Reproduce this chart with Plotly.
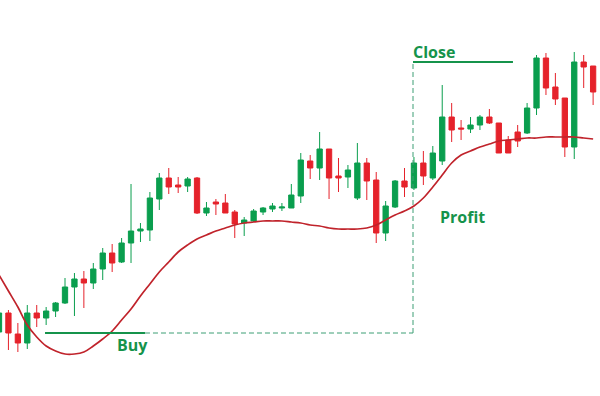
import plotly.graph_objects as go

# ---- data (price units; higher = up) ----
idx = list(range(64))
# colour of each candle: 1 = rising (green), 0 = falling (red)
rising = [1,0,0,1,0,1,1,1,1,0,1,1,0,1,1,1,1,1,0,0,1,0,1,0,0,0,1,1,1,1,
          1,1,1,0,1,0,0,1,1,0,0,1,1,0,1,0,1,1,0,0,1,1,0,0,0,0,1,1,0,0,
          0,1,0,0]
body_top = [313,313,334,313,313,311,303,287,279,279,269,253,253,243,231,229,198,178,178,185,
            179,178,208,202,203,212,220,211,208,206,207,195,160,161,149,149,176,170,163,163,
            180,206,181,181,163,163,153,117,117,128,125,117,117,123,140,132,108,58,58,87,
            98,62,62,66]
body_bot = [332,333,343,343,318,318,311,303,287,283,283,269,263,262,243,231,230,199,187,187,
            186,213,213,204,213,224,223,221,212,209,208,208,196,168,168,178,178,177,198,181,
            233,233,207,187,188,176,178,161,130,129,129,125,123,153,153,141,133,108,88,99,
            147,147,67,92]
wick_top = [305,310,323,305,305,307,302,278,273,271,263,248,244,238,184,223,192,173,168,177,
            177,177,202,199,194,210,217,209,207,203,203,184,153,155,132,149,158,165,143,158,
            172,201,180,168,157,151,146,85,103,120,117,115,109,123,136,125,103,55,53,73,
            98,52,55,66]
wick_bot = [338,350,352,349,327,325,317,304,316,308,289,280,272,263,263,242,241,210,194,193,
            192,214,216,215,213,238,236,222,215,212,211,208,203,179,180,199,192,188,200,200,
            243,241,208,197,190,185,180,165,142,140,133,130,124,153,153,147,134,115,95,105,
            157,159,88,105]
# moving-average line (pixel-read levels, one per candle)
ma_px = [275,291,307,325,337,346,351,354,354,352,346,339,331,320,309,296,284,272,262,252,
         245,239,235,231,228,225,223,222,221,221,221,222,223,225,226,228,229,229,229,228,
         225,220,215,211,206,198,187,175,163,155,151,147,144,141,140,139,138,138,137,137,
         137,137,138,139]

H = 396
to_price = lambda v: H - v
opens, closes, highs, lows = [], [], [], []
for r, t, b, wt, wb in zip(rising, body_top, body_bot, wick_top, wick_bot):
    if r:
        opens.append(to_price(b)); closes.append(to_price(t))
    else:
        opens.append(to_price(t)); closes.append(to_price(b))
    highs.append(to_price(wt)); lows.append(to_price(wb))
ma = [to_price(v) for v in ma_px]

buy_level = to_price(333)
close_level = to_price(62)
buy_start, buy_end, exit_x, close_end = 4.88, 15.48, 43.9, 54.5

GREEN = "#0a9e4e"
RED = "#e5222b"
TEXT_GREEN = "#15934b"
DASH = "#3c9e74"

fig = go.Figure()
fig.add_trace(go.Candlestick(
    x=idx, open=opens, high=highs, low=lows, close=closes,
    increasing=dict(line=dict(color=GREEN, width=1), fillcolor=GREEN),
    decreasing=dict(line=dict(color=RED, width=1), fillcolor=RED),
    whiskerwidth=0, showlegend=False, hoverinfo="skip"))
fig.add_trace(go.Scatter(x=idx, y=ma, mode="lines", line=dict(color="#c0232b", width=1.7, shape="spline"),
                         showlegend=False, hoverinfo="skip"))

# levels
fig.add_shape(type="line", x0=buy_start, x1=buy_end, y0=buy_level, y1=buy_level,
              line=dict(color=TEXT_GREEN, width=2))
fig.add_shape(type="line", x0=buy_end, x1=exit_x, y0=buy_level, y1=buy_level,
              line=dict(color=DASH, width=1, dash="5px,3px"))
fig.add_shape(type="line", x0=exit_x, x1=exit_x, y0=buy_level, y1=close_level,
              line=dict(color=DASH, width=1, dash="5px,3px"))
fig.add_shape(type="line", x0=exit_x, x1=close_end, y0=close_level, y1=close_level,
              line=dict(color=TEXT_GREEN, width=2))

font = dict(family="Open Sans", size=16, color=TEXT_GREEN)
fig.add_annotation(x=12.3, y=to_price(345), text="<b>Buy</b>", showarrow=False, xanchor="left", yanchor="middle", font=font)
fig.add_annotation(x=43.7, y=to_price(52), text="<b>Close</b>", showarrow=False, xanchor="left", yanchor="middle", font=font)
fig.add_annotation(x=46.6, y=to_price(217), text="<b>Profit</b>", showarrow=False, xanchor="left", yanchor="middle", font=font)

fig.update_layout(
    width=600, height=396, margin=dict(l=0, r=0, t=0, b=0),
    paper_bgcolor="white", plot_bgcolor="white",
    xaxis=dict(range=[0.106, 63.73], visible=False, rangeslider=dict(visible=False), fixedrange=True),
    yaxis=dict(range=[0, H], visible=False, fixedrange=True),
    boxgap=0.2,
)
fig.write_html("out.html", config={"displayModeBar": False},
               post_script="document.body.style.margin='0';document.body.style.overflow='hidden';")
